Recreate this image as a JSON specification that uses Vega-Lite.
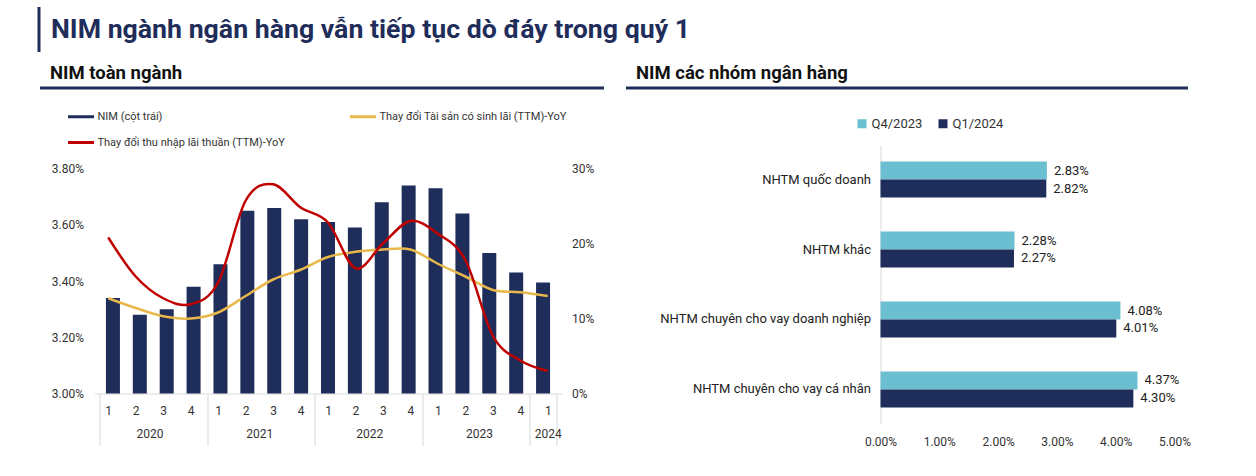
{
  "$schema": "https://vega.github.io/schema/vega-lite/v6.json",
  "padding": {"left": 38.5, "top": 6.5, "right": 0, "bottom": 0},
  "background": "white",
  "spacing": 12,
  "resolve": {"scale": {"color": "independent"}, "legend": {"color": "independent"}},
  "config": {
    "view": {"stroke": null},
    "font": "Roboto",
    "axis": {"labelFont": "Roboto", "labelColor": "#333333", "grid": false},
    "legend": {"labelFont": "Roboto", "labelColor": "#333333"}
  },
  "vconcat": [
    {
      "width": 10,
      "height": 45,
      "data": {"values": []},
      "mark": "point",
      "encoding": {
        "y": {
          "field": "v",
          "type": "quantitative",
          "scale": {"domain": [0, 1]},
          "axis": {
            "orient": "left",
            "offset": 56,
            "domain": true,
            "domainColor": "#1F2D5A",
            "domainWidth": 3,
            "labels": false,
            "ticks": false,
            "grid": false,
            "title": "NIM ngành ngân hàng vẫn tiếp tục dò đáy trong quý 1",
            "titleX": 12,
            "titleY": 31,
            "titleAngle": 0,
            "titleAlign": "left",
            "titleBaseline": "alphabetic",
            "titleFontSize": 26.7,
            "titleFontWeight": "bold",
            "titleColor": "#1F2D5A",
            "titleFont": "Roboto",
            "titleLimit": 1000,
            "minExtent": 0,
            "maxExtent": 0
          }
        }
      }
    },
    {
      "spacing": -23,
      "resolve": {"scale": {"color": "independent"}, "legend": {"color": "independent"}},
      "hconcat": [
        {
          "spacing": 75,
          "vconcat": [
            {
              "width": 10,
              "height": 1,
              "data": {"values": []},
              "mark": "point",
              "encoding": {
                "x": {
                  "field": "v",
                  "type": "quantitative",
                  "scale": {"domain": [0, 1], "range": [-55, 509]},
                  "axis": {
                    "orient": "bottom",
                    "domain": true,
                    "domainColor": "#1F2D5A",
                    "domainWidth": 3,
                    "labels": false,
                    "ticks": false,
                    "grid": false,
                    "title": "NIM toàn ngành",
                    "titleX": -45,
                    "titleY": -9,
                    "titleAlign": "left",
                    "titleBaseline": "alphabetic",
                    "titleAnchor": "start",
                    "titleFontSize": 18.5,
                    "titleFontWeight": "bold",
                    "titleColor": "#111111",
                    "titleFont": "Roboto",
                    "minExtent": 0,
                    "maxExtent": 0
                  }
                }
              }
            },
            {
              "width": 467,
              "height": 225,
              "data": {
                "values": [
                  {"i": 1, "nim": 0.0334, "assets": 0.127, "nii": 0.208},
                  {"i": 2, "nim": 0.0328, "assets": 0.114, "nii": 0.156},
                  {"i": 3, "nim": 0.0330, "assets": 0.103, "nii": 0.127},
                  {"i": 4, "nim": 0.0338, "assets": 0.100, "nii": 0.119},
                  {"i": 5, "nim": 0.0346, "assets": 0.108, "nii": 0.148},
                  {"i": 6, "nim": 0.0365, "assets": 0.130, "nii": 0.257},
                  {"i": 7, "nim": 0.0366, "assets": 0.152, "nii": 0.279},
                  {"i": 8, "nim": 0.0362, "assets": 0.165, "nii": 0.248},
                  {"i": 9, "nim": 0.0361, "assets": 0.182, "nii": 0.228},
                  {"i": 10, "nim": 0.0359, "assets": 0.189, "nii": 0.167},
                  {"i": 11, "nim": 0.0368, "assets": 0.192, "nii": 0.200},
                  {"i": 12, "nim": 0.0374, "assets": 0.192, "nii": 0.230},
                  {"i": 13, "nim": 0.0373, "assets": 0.173, "nii": 0.213},
                  {"i": 14, "nim": 0.0364, "assets": 0.156, "nii": 0.178},
                  {"i": 15, "nim": 0.0350, "assets": 0.138, "nii": 0.077},
                  {"i": 16, "nim": 0.0343, "assets": 0.135, "nii": 0.044},
                  {"i": 17, "nim": 0.03395, "assets": 0.130, "nii": 0.030}
                ]
              },
              "resolve": {
                "scale": {"x": "independent", "y": "independent"},
                "axis": {"x": "independent", "y": "independent"}
              },
              "layer": [
                {
                  "mark": {"type": "bar", "size": 14},
                  "encoding": {
                    "x": {
                      "field": "i",
                      "type": "quantitative",
                      "scale": {"domain": [0.5, 17.5], "nice": false, "zero": false},
                      "axis": {
                        "orient": "bottom",
                        "values": [0.5, 4.5, 8.5, 12.5, 16.5, 17.5],
                        "labels": false,
                        "ticks": true,
                        "tickSize": 52,
                        "tickColor": "#d9d9d9",
                        "domainColor": "#d9d9d9",
                        "title": null
                      }
                    },
                    "y": {
                      "field": "nim",
                      "type": "quantitative",
                      "scale": {"domain": [0.03, 0.038], "nice": false, "zero": false},
                      "axis": {
                        "orient": "left",
                        "values": [0.03, 0.032, 0.034, 0.036, 0.038],
                        "format": ".2%",
                        "ticks": false,
                        "domain": false,
                        "title": null,
                        "labelPadding": 11,
                        "labelFontSize": 12
                      }
                    },
                    "y2": {"datum": 0.03},
                    "color": {
                      "datum": "NIM (cột trái)",
                      "type": "nominal",
                      "scale": {
                        "domain": ["NIM (cột trái)", "Thay đổi Tài sản có sinh lãi (TTM)-YoY", "Thay đổi thu nhập lãi thuần (TTM)-YoY"],
                        "range": ["#1F2D5A", "#E8B84A", "#C00000"]
                      },
                      "legend": {
                        "title": null,
                        "orient": "none",
                        "legendX": -28,
                        "legendY": 15.5,
                        "direction": "horizontal",
                        "columns": 2,
                        "columnPadding": 58,
                        "rowPadding": 5,
                        "symbolType": "stroke",
                        "symbolSize": 676,
                        "symbolStrokeWidth": 3,
                        "labelFontSize": 11,
                        "labelOffset": 2,
                        "labelLimit": 300
                      }
                    }
                  }
                },
                {
                  "resolve": {"scale": {"x": "independent"}, "axis": {"x": "independent"}},
                  "layer": [
                    {
                      "mark": {"type": "line", "interpolate": "cardinal", "strokeWidth": 2.5},
                      "encoding": {
                        "x": {
                          "field": "i",
                          "type": "quantitative",
                          "scale": {"domain": [0.5, 17.5], "nice": false, "zero": false},
                          "axis": {
                            "orient": "bottom",
                            "values": [1, 2, 3, 4, 5, 6, 7, 8, 9, 10, 11, 12, 13, 14, 15, 16, 17],
                            "labelExpr": "'' + ((datum.value - 1) % 4 + 1)",
                            "labelOverlap": false,
                            "labelFlush": false,
                            "labelBound": false,
                            "labelFontSize": 12,
                            "labelPadding": 12,
                            "ticks": false,
                            "domain": false,
                            "title": null
                          }
                        },
                        "y": {
                          "field": "assets",
                          "type": "quantitative",
                          "scale": {"domain": [0, 0.3], "nice": false},
                          "axis": {
                            "orient": "right",
                            "values": [0, 0.1, 0.2, 0.3],
                            "format": ".0%",
                            "ticks": false,
                            "domain": false,
                            "title": null,
                            "labelPadding": 10,
                            "labelFontSize": 12
                          }
                        },
                        "color": {"datum": "Thay đổi Tài sản có sinh lãi (TTM)-YoY", "type": "nominal"}
                      }
                    },
                    {
                      "mark": {"type": "line", "interpolate": "cardinal", "strokeWidth": 2.5},
                      "encoding": {
                        "x": {
                          "field": "i",
                          "type": "quantitative",
                          "scale": {"domain": [0.5, 17.5], "nice": false, "zero": false},
                          "axis": {
                            "orient": "bottom",
                            "values": [2.5, 6.5, 10.5, 14.5, 17],
                            "labelExpr": "datum.value == 17 ? '2024' : '' + (2020 + floor((datum.value - 1) / 4))",
                            "labelOverlap": false,
                            "labelFlush": false,
                            "labelBound": false,
                            "labelFontSize": 12,
                            "labelPadding": 35,
                            "ticks": false,
                            "domain": false,
                            "title": null
                          }
                        },
                        "y": {"field": "nii", "type": "quantitative"},
                        "color": {"datum": "Thay đổi thu nhập lãi thuần (TTM)-YoY", "type": "nominal"}
                      }
                    }
                  ]
                }
              ]
            }
          ]
        },
        {
          "spacing": 58,
          "vconcat": [
            {
              "width": 10,
              "height": 1,
              "data": {"values": []},
              "mark": "point",
              "encoding": {
                "x": {
                  "field": "v",
                  "type": "quantitative",
                  "scale": {"domain": [0, 1], "range": [-255, 307]},
                  "axis": {
                    "orient": "bottom",
                    "domain": true,
                    "domainColor": "#1F2D5A",
                    "domainWidth": 3,
                    "labels": false,
                    "ticks": false,
                    "grid": false,
                    "title": "NIM các nhóm ngân hàng",
                    "titleX": -245,
                    "titleY": -9,
                    "titleAlign": "left",
                    "titleBaseline": "alphabetic",
                    "titleAnchor": "start",
                    "titleFontSize": 18.5,
                    "titleFontWeight": "bold",
                    "titleColor": "#111111",
                    "titleFont": "Roboto",
                    "minExtent": 0,
                    "maxExtent": 0
                  }
                }
              }
            },
            {
              "width": 294,
              "height": 278,
              "data": {
                "values": [
                  {"bank": "NHTM quốc doanh", "period": "Q4/2023", "v": 0.0283},
                  {"bank": "NHTM quốc doanh", "period": "Q1/2024", "v": 0.0282},
                  {"bank": "NHTM khác", "period": "Q4/2023", "v": 0.0228},
                  {"bank": "NHTM khác", "period": "Q1/2024", "v": 0.0227},
                  {"bank": "NHTM chuyên cho vay doanh nghiệp", "period": "Q4/2023", "v": 0.0408},
                  {"bank": "NHTM chuyên cho vay doanh nghiệp", "period": "Q1/2024", "v": 0.0401},
                  {"bank": "NHTM chuyên cho vay cá nhân", "period": "Q4/2023", "v": 0.0437},
                  {"bank": "NHTM chuyên cho vay cá nhân", "period": "Q1/2024", "v": 0.0430}
                ]
              },
              "encoding": {
                "y": {
                  "field": "bank",
                  "type": "nominal",
                  "sort": ["NHTM quốc doanh", "NHTM khác", "NHTM chuyên cho vay doanh nghiệp", "NHTM chuyên cho vay cá nhân"],
                  "scale": {"paddingInner": 0.486, "paddingOuter": 0.229},
                  "axis": {
                    "title": null,
                    "ticks": false,
                    "domain": true,
                    "domainColor": "#d9d9d9",
                    "labelFontSize": 13,
                    "labelColor": "#222222",
                    "labelPadding": 10,
                    "labelLimit": 400
                  }
                },
                "yOffset": {
                  "field": "period",
                  "type": "nominal",
                  "sort": ["Q4/2023", "Q1/2024"],
                  "scale": {"paddingInner": 0, "paddingOuter": 0}
                },
                "x": {
                  "field": "v",
                  "type": "quantitative",
                  "scale": {"domain": [0, 0.05], "nice": false},
                  "axis": {
                    "title": null,
                    "values": [0, 0.01, 0.02, 0.03, 0.04, 0.05],
                    "format": ".2%",
                    "ticks": false,
                    "domain": false,
                    "labelFontSize": 12,
                    "labelPadding": 13,
                    "labelFlush": false
                  }
                }
              },
              "layer": [
                {
                  "mark": {"type": "bar"},
                  "encoding": {
                    "color": {
                      "field": "period",
                      "type": "nominal",
                      "sort": ["Q4/2023", "Q1/2024"],
                      "scale": {"domain": ["Q4/2023", "Q1/2024"], "range": ["#6BBFD0", "#1F2D5A"]},
                      "legend": {
                        "title": null,
                        "orient": "none",
                        "legendX": -25,
                        "legendY": 30.5,
                        "direction": "horizontal",
                        "symbolType": "square",
                        "symbolSize": 81,
                        "symbolStrokeWidth": 0,
                        "labelFontSize": 13,
                        "labelOffset": 3,
                        "columnPadding": 14
                      }
                    }
                  }
                },
                {
                  "mark": {"type": "text", "align": "left", "baseline": "middle", "dx": 7, "fontSize": 13, "color": "#222222", "font": "Roboto"},
                  "encoding": {
                    "text": {"field": "v", "type": "quantitative", "format": ".2%"}
                  }
                }
              ]
            }
          ]
        }
      ]
    }
  ]
}
